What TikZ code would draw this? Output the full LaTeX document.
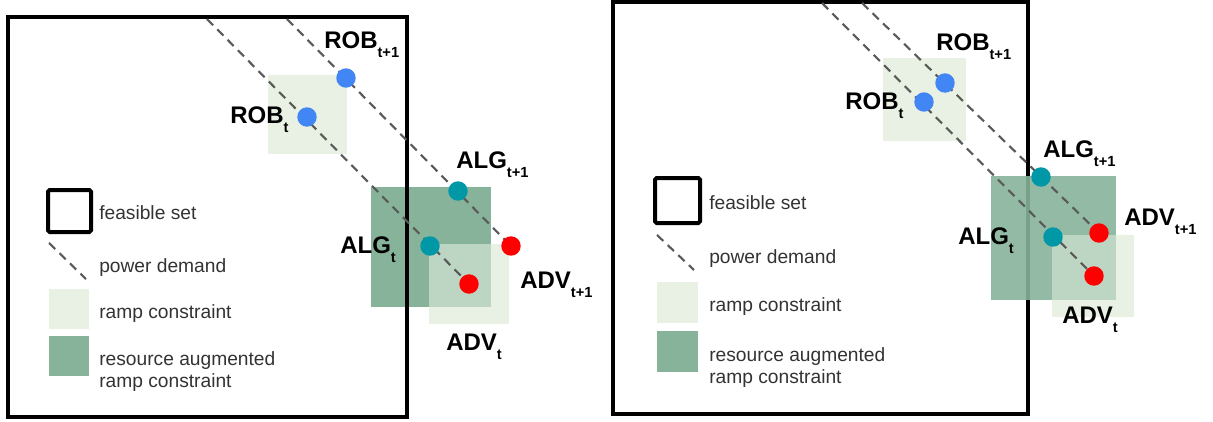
\documentclass[tikz,border=0pt]{standalone}
\usepackage{fontspec}
\setmainfont{Liberation Sans}
\definecolor{lightg}{HTML}{E9F1E4}
\definecolor{darkg}{HTML}{87B39A}
\definecolor{dotblue}{HTML}{4285F4}
\definecolor{dotteal}{HTML}{0097A7}
\definecolor{dotred}{HTML}{FF0000}
\definecolor{dashgray}{HTML}{5A5A5A}
\definecolor{legtext}{HTML}{333333}
\newcommand{\sublbl}[2]{#1\raisebox{-7pt}{\fontsize{11}{13}\selectfont #2}}
\begin{document}
\begin{tikzpicture}[x=0.75pt,y=-0.75pt]
\tikzset{
  demand/.style={draw=dashgray,line width=1.6pt,dash pattern=on 6.5pt off 4.5pt},
  feasible/.style={draw=black,line width=3pt},
  legbox/.style={draw=black,line width=3pt,rounded corners=1.2pt},
  dot/.style={circle,inner sep=0pt,minimum size=14.6pt},
  rob/.style={dot,fill=dotblue},
  alg/.style={dot,fill=dotteal},
  adv/.style={dot,fill=dotred},
  lbl/.style={anchor=base west,inner sep=0pt,font=\fontsize{18}{21}\selectfont\bfseries},
  legtxt/.style={anchor=base west,inner sep=0pt,text=legtext,font=\fontsize{14.4}{16.5}\selectfont,align=left},
}
\useasboundingbox (0,0) rectangle (1213,421);

% ---------------- left panel ----------------
\fill[lightg] (268,75) rectangle (347,154);
\fill[lightg] (429,244) rectangle (509,324);
\fill[darkg] (371,187) rectangle (491,307);
\fill[lightg!55!darkg] (429,244) rectangle (491,307);
\draw[feasible] (8,17) rectangle (407,417);

\coordinate (aL1) at (207,19);
\coordinate (aL2) at (287,19);
\coordinate (pLadvt) at (469,284);
\coordinate (pLadvn) at (511,246);
\draw[demand] (aL1) -- (pLadvt);
\draw[demand] (aL2) -- (pLadvn);

\node[rob] (LrobN) at (346,78) {};
\node[rob] (LrobT) at (307,117) {};
\node[alg] (LalgN) at (458,191) {};
\node[alg] (LalgT) at (430,246) {};
\node[adv] (LadvN) at (pLadvn) {};
\node[adv] (LadvT) at (pLadvt) {};

\node[lbl] (tLrobN) at (324,48) {\sublbl{ROB}{t+1}};
\node[lbl] (tLrobT) at (230,123) {\sublbl{ROB}{t}};
\node[lbl] (tLalgN) at (456,168) {\sublbl{ALG}{t+1}};
\node[lbl] (tLalgT) at (340,253) {\sublbl{ALG}{t}};
\node[lbl] (tLadvN) at (520,288) {\sublbl{ADV}{t+1}};
\node[lbl] (tLadvT) at (446,350) {\sublbl{ADV}{t}};

% legend left
\draw[legbox] (48,190) rectangle (91,232);
\coordinate (lgL1) at (49,243);
\coordinate (lgL2) at (86,279);
\draw[demand] (lgL1) -- (lgL2);
\fill[lightg] (49,289) rectangle (89,329);
\fill[darkg] (49,336) rectangle (89,376);
\node[legtxt] (lgLa) at (99,219) {feasible set};
\node[legtxt] (lgLb) at (99,272) {power demand};
\node[legtxt] (lgLc) at (99,318) {ramp constraint};
\node[legtxt] (lgLd) at (99,387) {resource augmented\\ramp constraint};

% ---------------- right panel ----------------
\fill[lightg] (883,58) rectangle (966,141);
\draw[feasible] (613,2) rectangle (1028,414);
\fill[lightg] (1052,235) rectangle (1134,317);
\fill[darkg,opacity=0.9] (991,176) rectangle (1116,300);
\fill[lightg!55!darkg] (1052,235) rectangle (1116,300);

\coordinate (aR1) at (822,3);
\coordinate (aR2) at (862,3);
\coordinate (pRadvt) at (1094,276);
\coordinate (pRadvn) at (1099,233);
\draw[demand] (aR1) -- (pRadvt);
\draw[demand] (aR2) -- (pRadvn);

\node[rob] (RrobN) at (945,83) {};
\node[rob] (RrobT) at (924,102) {};
\node[alg] (RalgN) at (1041,177) {};
\node[alg] (RalgT) at (1053,237) {};
\node[adv] (RadvN) at (pRadvn) {};
\node[adv] (RadvT) at (pRadvt) {};

\node[lbl] (tRrobN) at (936,50) {\sublbl{ROB}{t+1}};
\node[lbl] (tRrobT) at (845,109) {\sublbl{ROB}{t}};
\node[lbl] (tRalgN) at (1043,157) {\sublbl{ALG}{t+1}};
\node[lbl] (tRalgT) at (958,244) {\sublbl{ALG}{t}};
\node[lbl] (tRadvN) at (1124,225) {\sublbl{ADV}{t+1}};
\node[lbl] (tRadvT) at (1062,323) {\sublbl{ADV}{t}};

% legend right
\draw[legbox] (655,178) rectangle (700,223);
\coordinate (lgR1) at (657,235);
\coordinate (lgR2) at (694,270);
\draw[demand] (lgR1) -- (lgR2);
\fill[lightg] (657,282) rectangle (698,323);
\fill[darkg] (657,331) rectangle (698,372);
\node[legtxt] (lgRa) at (709,209) {feasible set};
\node[legtxt] (lgRb) at (709,263) {power demand};
\node[legtxt] (lgRc) at (709,311) {ramp constraint};
\node[legtxt] (lgRd) at (709,383) {resource augmented\\ramp constraint};
\end{tikzpicture}
\end{document}
